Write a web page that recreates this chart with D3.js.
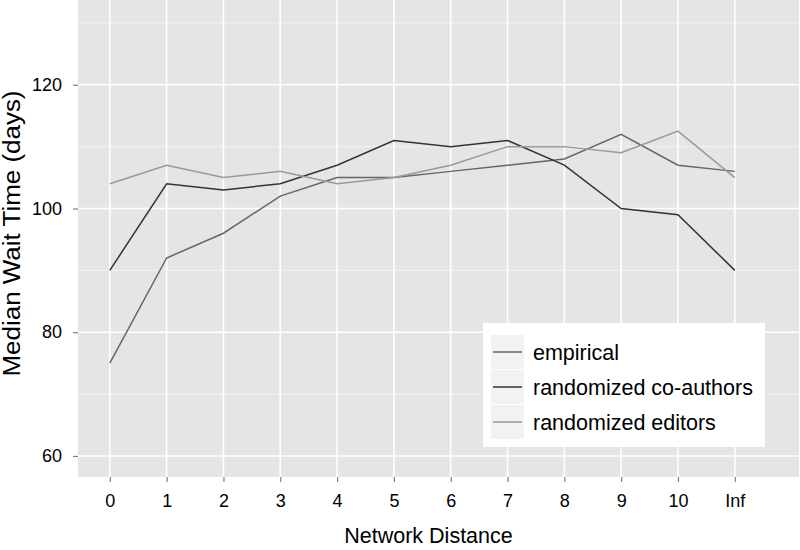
<!DOCTYPE html>
<html>
<head>
<meta charset="utf-8">
<script src="https://cdn.jsdelivr.net/npm/d3@7"></script>
<style>
  body { margin: 0; background: #fff; }
  svg { display: block; font-family: "Liberation Sans", Arial, sans-serif; }
</style>
</head>
<body>
<div id="chart"></div>
<script>
var width = 800;
var height = 550;

var distances = ["0", "1", "2", "3", "4", "5", "6", "7", "8", "9", "10", "Inf"];
var empirical = [75, 92, 96, 102, 105, 105, 106, 107, 108, 112, 107, 106];
var coauthors = [90, 104, 103, 104, 107, 111, 110, 111, 107, 100, 99, 90];
var editors = [104, 107, 105, 106, 104, 105, 107, 110, 110, 109, 112.5, 105];
var seriesNames = ["empirical", "randomized co-authors", "randomized editors"];
var seriesColors = ["#666666", "#333333", "#999999"];
var yTicks = [60, 80, 100, 120];
var yMinor = [70, 90, 110, 130];

var series = [empirical, coauthors, editors];

var panel = {left: 78, top: 0, right: 799, bottom: 477};

var x = d3.scaleLinear()
    .domain([-0.56, 12.13])
    .range([panel.left, panel.right]);

var y = d3.scaleLinear()
    .domain([56.6, 133.7])
    .range([panel.bottom, panel.top]);

var svg = d3.select("#chart").append("svg")
    .attr("width", width)
    .attr("height", height);

svg.append("rect")
    .attr("x", panel.left)
    .attr("y", panel.top)
    .attr("width", panel.right - panel.left)
    .attr("height", panel.bottom - panel.top)
    .attr("fill", "#e5e5e5");

// minor grid
svg.append("g").selectAll("line")
  .data(yMinor)
  .join("line")
    .attr("x1", panel.left)
    .attr("x2", panel.right)
    .attr("y1", d => y(d))
    .attr("y2", d => y(d))
    .attr("stroke", "#f2f2f2")
    .attr("stroke-width", 1);

// major grid
svg.append("g").selectAll("line")
  .data(yTicks)
  .join("line")
    .attr("x1", panel.left)
    .attr("x2", panel.right)
    .attr("y1", d => y(d))
    .attr("y2", d => y(d))
    .attr("stroke", "#ffffff")
    .attr("stroke-width", 1.6);

svg.append("g").selectAll("line")
  .data(distances)
  .join("line")
    .attr("x1", (d, i) => x(i))
    .attr("x2", (d, i) => x(i))
    .attr("y1", panel.top)
    .attr("y2", panel.bottom)
    .attr("stroke", "#ffffff")
    .attr("stroke-width", 1.6);

// lines
var line = d3.line()
    .x((d, i) => x(i))
    .y(d => y(d));

svg.append("g")
    .attr("fill", "none")
  .selectAll("path")
  .data(series)
  .join("path")
    .attr("stroke", (d, i) => seriesColors[i])
    .attr("stroke-width", 1.5)
    .attr("d", line);

// axes
var xAxis = d3.axisBottom(x)
    .tickValues(d3.range(distances.length))
    .tickFormat(i => distances[i])
    .tickSize(5);

var gx = svg.append("g")
    .attr("transform", `translate(0,${panel.bottom})`)
    .call(xAxis);
gx.select(".domain").remove();
gx.selectAll(".tick line").attr("stroke", "#7f7f7f").attr("stroke-width", 1.2);
gx.selectAll(".tick text")
    .attr("font-size", 18)
    .attr("fill", "#000")
    .attr("y", 30)
    .attr("dy", 0);

var yAxis = d3.axisLeft(y)
    .tickValues(yTicks)
    .tickSize(5)
    .tickPadding(11);

var gy = svg.append("g")
    .attr("transform", `translate(${panel.left},0)`)
    .call(yAxis);
gy.select(".domain").remove();
gy.selectAll(".tick line").attr("stroke", "#7f7f7f").attr("stroke-width", 1.2);
gy.selectAll(".tick text").attr("font-size", 18).attr("fill", "#000");

svg.append("text")
    .attr("x", 428.5)
    .attr("y", 543)
    .attr("text-anchor", "middle")
    .attr("font-size", 21.5)
    .text("Network Distance");

svg.append("text")
    .attr("transform", "translate(19.5,233.5) rotate(-90)")
    .attr("text-anchor", "middle")
    .attr("font-size", 23)
    .attr("textLength", 286)
    .attr("lengthAdjust", "spacingAndGlyphs")
    .text("Median Wait Time (days)");

// legend
var legend = svg.append("g")
    .attr("transform", "translate(483,323)");

legend.append("rect")
    .attr("width", 282)
    .attr("height", 124)
    .attr("fill", "#ffffff");

var item = legend.selectAll("g.item")
  .data(seriesNames)
  .join("g")
    .attr("class", "item")
    .attr("transform", (d, i) => `translate(8,${12 + i * 35})`);

item.append("rect")
    .attr("width", 33)
    .attr("height", 34)
    .attr("fill", "#f2f2f2");

item.append("line")
    .attr("x1", 2)
    .attr("x2", 31)
    .attr("y1", 17)
    .attr("y2", 17)
    .attr("stroke", (d, i) => seriesColors[i])
    .attr("stroke-width", 1.5);

item.append("text")
    .attr("x", 42)
    .attr("y", 17)
    .attr("dy", "0.35em")
    .attr("font-size", 21.5)
    .text(d => d);
</script>
</body>
</html>
